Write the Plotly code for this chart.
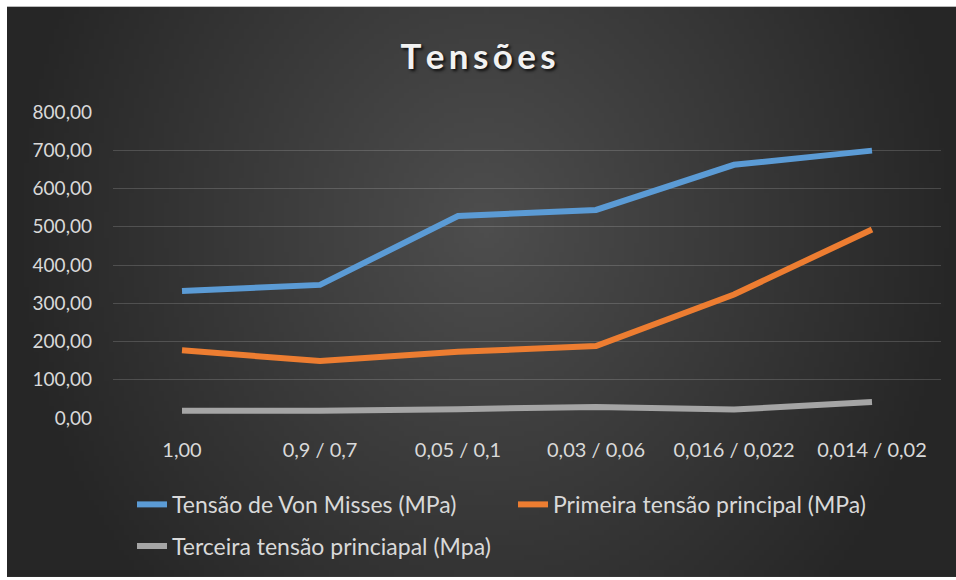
import base64
import struct
import zlib

import numpy as np
import plotly.graph_objects as go

# ---------------- data ----------------
categories = ["1,00", "0,9 / 0,7", "0,05 / 0,1", "0,03 / 0,06", "0,016 / 0,022", "0,014 / 0,02"]
von_mises = [332, 348, 528, 544, 662, 699]
primeira = [177, 149, 173, 188, 323, 493]
terceira = [19, 19, 23, 29, 22, 42]
series_names = [
    "Tensão de Von Misses (MPa)",
    "Primeira tensão principal (MPa)",
    "Terceira tensão princiapal (Mpa)",
]
y_ticks = [0, 100, 200, 300, 400, 500, 600, 700, 800]

# ---------------- background gradient (style only) ----------------
W, H = 949, 574


def make_png(arr):
    h, w, _ = arr.shape
    raw = b"".join(b"\x00" + arr[r].tobytes() for r in range(h))

    def chunk(tag, data):
        c = struct.pack(">I", len(data)) + tag + data
        return c + struct.pack(">I", zlib.crc32(tag + data) & 0xFFFFFFFF)

    png = b"\x89PNG\r\n\x1a\n"
    png += chunk(b"IHDR", struct.pack(">IIBBBBB", w, h, 8, 2, 0, 0, 0))
    png += chunk(b"IDAT", zlib.compress(raw, 9))
    png += chunk(b"IEND", b"")
    return "data:image/png;base64," + base64.b64encode(png).decode()


gw, gh = 190, 115
xs = (np.arange(gw) + 0.5) / gw * W
ys = (np.arange(gh) + 0.5) / gh * H
X, Y = np.meshgrid(xs, ys)
t = np.sqrt(((X - 478) / 560) ** 2 + ((Y - 220) / 640) ** 2)
t = np.clip(t / 0.85, 0, 1)
c_in, c_out = 78, 38
v = (c_in + (c_out - c_in) * t).astype(np.uint8)
img = np.stack([v, v, v], axis=-1)
bg_src = make_png(img)

# plot area in pixels
PL, PR, PT, PB = 113, 941, 112, 420
pw, ph = PR - PL, PB - PT

fig = go.Figure()
colors = ["#5B9BD5", "#ED7D31", "#A5A5A5"]
for vals, name, col, leg in zip([von_mises, primeira, terceira], series_names, colors,
                                ["legend", "legend", "legend2"]):
    fig.add_trace(go.Scatter(
        x=categories, y=vals, name=name, mode="lines",
        line=dict(color=col, width=6),
        legend=leg,
    ))

font_main = "Lato, 'Open Sans', sans-serif"
txt_col = "#D9D9D9"

fig.update_layout(
    width=956, height=580,
    margin=dict(l=PL, r=956 - PR, t=PT, b=580 - PB),
    paper_bgcolor="white",
    plot_bgcolor="rgba(0,0,0,0)",
    separators=",.",
    title=dict(
        text="T\u2009e\u2009n\u2009s\u2009õ\u2009e\u2009s",
        x=0.5, xanchor="center", y=1 - 57 / 580, yanchor="middle",
        font=dict(family=font_main, size=35, color="#F2F2F2", weight="bold",
                  shadow="2px 2px 3px rgba(0,0,0,0.8)"),
    ),
    font=dict(family=font_main, size=19, color=txt_col),
    xaxis=dict(
        range=[-0.5, 5.5],
        showgrid=False, zeroline=False, showline=False, ticks="",
        tickfont=dict(size=20, color=txt_col), ticklabelstandoff=18,
    ),
    yaxis=dict(
        range=[0, 800], tickvals=y_ticks, tickformat=".2f",
        showgrid=True, gridcolor="rgba(255,255,255,0.16)", gridwidth=1,
        zeroline=False, showline=False, ticks="",
        tickfont=dict(size=19, color=txt_col), ticklabelstandoff=20,
    ),
    legend=dict(
        orientation="h", x=(132 - PL) / pw, xanchor="left",
        y=(PB - 507) / ph, yanchor="middle",
        bgcolor="rgba(0,0,0,0)", font=dict(size=23, color=txt_col),
        entrywidth=336, entrywidthmode="pixels",
    ),
    legend2=dict(
        orientation="h", x=(132 - PL) / pw, xanchor="left",
        y=(PB - 549) / ph, yanchor="middle",
        bgcolor="rgba(0,0,0,0)", font=dict(size=23, color=txt_col),
    ),
    images=[dict(
        source=bg_src, xref="paper", yref="paper",
        x=(7 - PL) / pw, y=(PB - 6) / ph,
        sizex=W / pw, sizey=H / ph,
        xanchor="left", yanchor="top", sizing="stretch", layer="below",
    )],
)

fig.write_html("out.html", config={"displayModeBar": False},
               post_script="document.body.style.margin='0';")
